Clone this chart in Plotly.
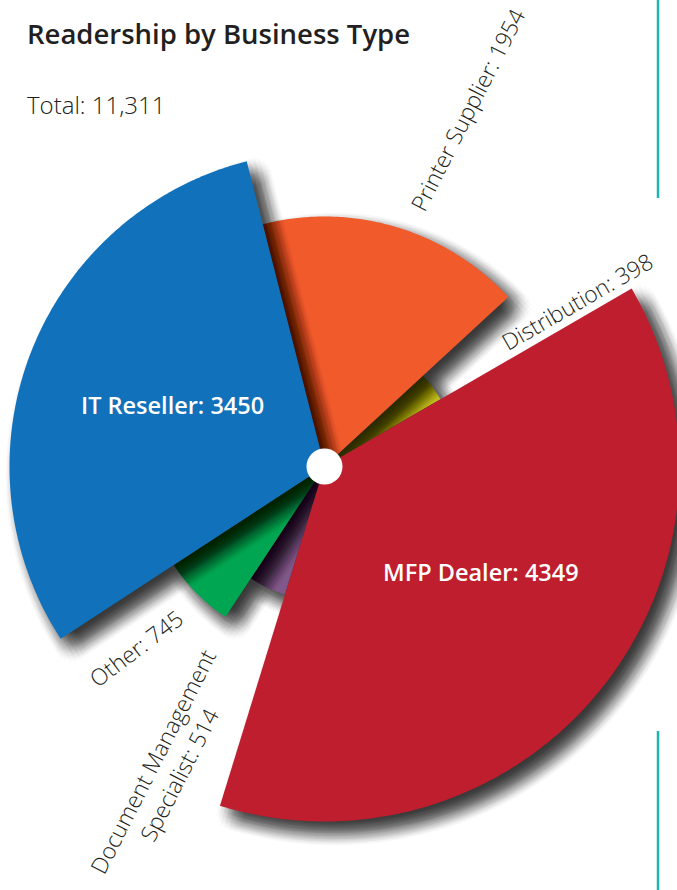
import numpy as np
import plotly.graph_objects as go

# ---- data ----
categories = ["Printer Supplier", "Distribution", "MFP Dealer",
              "Document Management Specialist", "Other", "IT Reseller"]
values = [1954, 398, 4349, 514, 745, 3450]
# relative outer radius of each wedge (px)
radius = [250, 134, 355, 134, 180, 315]
colors = ["#f15a2b", "#c9c31f", "#be1e2d", "#80598a", "#00a651", "#1172bb"]
total_label = "Total: 11,311"

# ---- geometry ----
W, H = 677, 890
CX, CY = 324.5, 466.5          # pixel position of the pie centre
START = 104.3                  # angle (deg, ccw from east) where first wedge starts
vals = np.array(values, float)
spans = vals / vals.sum() * 360.0
ends = START - np.cumsum(spans)
starts = ends + spans


def P(px, py):
    return px - CX, CY - py


def wedge(a0, a1, r, dx=0.0, dy=0.0):
    t = np.radians(np.linspace(a0, a1, max(int(abs(a0 - a1)) * 2, 8)))
    xs = np.concatenate([[0], r * np.cos(t), [0]]) + dx
    ys = np.concatenate([[0], r * np.sin(t), [0]]) + dy
    return xs, ys


fig = go.Figure()

# draw order (bottom -> top)
order = [1, 0, 3, 4, 5, 2]
SH_OFF = (10.0, -10.0)
blur_offsets = [(0.0, 0.0)]
for rad, n in [(2, 5), (4, 7), (6, 9), (8, 11), (10, 13), (12, 15), (14, 17)]:
    for k in range(n):
        a = 2 * np.pi * k / n + rad * 0.7
        blur_offsets.append((rad * np.cos(a), rad * np.sin(a)))
alpha = 0.0145

for i in order:
    for ox, oy in blur_offsets:
        xs, ys = wedge(starts[i], ends[i], radius[i], SH_OFF[0] + ox, SH_OFF[1] + oy)
        fig.add_trace(go.Scatter(x=xs, y=ys, fill="toself", mode="none",
                                 fillcolor=f"rgba(0,0,0,{alpha})",
                                 hoverinfo="skip", showlegend=False))
    xs, ys = wedge(starts[i], ends[i], radius[i])
    fig.add_trace(go.Scatter(x=xs, y=ys, fill="toself", mode="none",
                             fillcolor=colors[i], name=categories[i],
                             hovertemplate=f"{categories[i]}: {values[i]}<extra></extra>",
                             showlegend=False))

# centre hole
fig.add_trace(go.Scatter(x=[0], y=[0], mode="markers",
                         marker=dict(size=36, color="white"),
                         hoverinfo="skip", showlegend=False))

DARK = "#231f20"
FAM = "Open Sans"
LIGHT = dict(family=FAM, size=22.7, color=DARK, weight=300)
ann = []
# title & total
ann.append(dict(xref="paper", yref="paper", x=25 / W, y=1 - 33 / H, xanchor="left",
                yanchor="middle", text="Readership by Business Type", showarrow=False,
                font=dict(family=FAM, size=27.5, color=DARK, weight=600)))
ann.append(dict(xref="paper", yref="paper", x=25 / W, y=1 - 105 / H, xanchor="left",
                yanchor="middle", text=total_label, showarrow=False,
                font=dict(family=FAM, size=24, color=DARK, weight=300)))
# inside labels
for idx, (px, py) in [(5, (172, 405)), (2, (481, 572))]:
    x, y = P(px, py)
    ann.append(dict(x=x, y=y, text=f"{categories[idx]}: {values[idx]}",
                    showarrow=False, font=dict(family=FAM, size=23.5, color="white", weight=600)))
# outside rotated labels
outer = [
    (0, "Printer Supplier: 1954", (467, 110), -63),
    (1, "Distribution: 398", (577, 301), -30),
    (4, "Other: 745", (136, 648), -37),
    (3, "Document Management<br>Specialist: 514", (166, 768), -63),
]
for idx, txt, (px, py), ang in outer:
    x, y = P(px, py)
    ann.append(dict(x=x, y=y, text=txt, textangle=ang, showarrow=False,
                    font=LIGHT, align="center"))

TEAL = "#1db5b1"
shapes = [
    dict(type="line", xref="paper", yref="paper", x0=658 / W, x1=658 / W,
         y0=1, y1=1 - 198 / H, line=dict(color=TEAL, width=2.5)),
    dict(type="line", xref="paper", yref="paper", x0=658 / W, x1=658 / W,
         y0=1 - 731 / H, y1=0, line=dict(color=TEAL, width=2.5)),
]

fig.update_layout(
    width=W, height=H, margin=dict(l=0, r=0, t=0, b=0),
    paper_bgcolor="white", plot_bgcolor="white",
    xaxis=dict(range=[-CX, W - CX], visible=False, fixedrange=True),
    yaxis=dict(range=[CY - H, CY], visible=False, fixedrange=True),
    annotations=ann, shapes=shapes, showlegend=False,
)
fig.write_html("out.html")
